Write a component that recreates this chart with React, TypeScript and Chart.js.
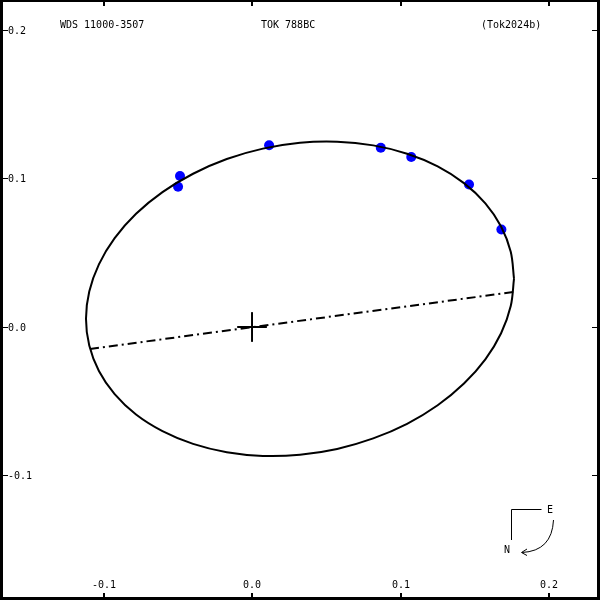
import React, { useEffect, useRef } from "react";
import { Chart, registerables } from "chart.js";

Chart.register(...registerables);

// Orbit (apparent ellipse)
const orbitX = [0.1764, 0.1742, 0.1677, 0.1571, 0.1427, 0.125, 0.1044, 0.0816, 0.0573, 0.0323, 0.0073, -0.017, -0.0397, -0.0603, -0.0781, -0.0925, -0.1031, -0.1096, -0.1118, -0.1096, -0.1031, -0.0925, -0.0781, -0.0603, -0.0397, -0.017, 0.0073, 0.0323, 0.0573, 0.0816, 0.1044, 0.125, 0.1427, 0.1571, 0.1677, 0.1742, 0.1764];
const orbitY = [0.0326, 0.0141, -0.0042, -0.0218, -0.0381, -0.0527, -0.0652, -0.075, -0.0821, -0.086, -0.0868, -0.0843, -0.0787, -0.0701, -0.0589, -0.0452, -0.0296, -0.0125, 0.0055, 0.0239, 0.0422, 0.0598, 0.0762, 0.0908, 0.1032, 0.1131, 0.1201, 0.1241, 0.1248, 0.1223, 0.1167, 0.1082, 0.0969, 0.0833, 0.0677, 0.0506, 0.0326];

// Observations
const obsX = [0.0115, 0.0867, 0.1072, 0.1461, 0.1679, -0.0485, -0.0498];
const obsY = [0.1224, 0.1207, 0.1145, 0.096, 0.0657, 0.1017, 0.0944];

// Line of nodes
const nodesX = [-0.1091, 0.1764];
const nodesY = [-0.0148, 0.0236];

// Axis ticks
const tickValuesX = [-0.1, 0, 0.1, 0.2];
const tickLabelsX = ["-0.1", "0.0", "0.1", "0.2"];
const tickValuesY = [0.2, 0.1, 0, -0.1];
const tickLabelsY = ["0.2", "0.1", "0.0", "-0.1"];

const titleLeft = "WDS 11000-3507";
const titleMid = "TOK 788BC";
const titleRight = "(Tok2024b)";

const crossSize = 0.01;

const FONT = '10px "DejaVu Sans Mono", "Liberation Mono", monospace';

const framePlugin = {
  id: "framePlugin",
  afterDraw(chart: any) {
    const ctx = chart.ctx as CanvasRenderingContext2D;
    const xs = chart.scales.x;
    const ys = chart.scales.y;
    const W = chart.width;
    const H = chart.height;
    ctx.save();
    ctx.fillStyle = "#000";
    // frame
    ctx.fillRect(0, 0, 3, H);
    ctx.fillRect(0, 0, W, 2);
    ctx.fillRect(W - 3, 0, 3, H);
    ctx.fillRect(0, H - 3, W, 3);
    ctx.font = FONT;
    // x ticks + labels
    ctx.textAlign = "center";
    ctx.textBaseline = "middle";
    tickValuesX.forEach((v, i) => {
      const px = Math.round(xs.getPixelForValue(v));
      ctx.fillRect(px - 1, 2, 2, 4);
      ctx.fillRect(px - 1, H - 7, 2, 4);
      ctx.fillText(tickLabelsX[i], px, H - 15);
    });
    // y ticks + labels
    ctx.textAlign = "left";
    tickValuesY.forEach((v, i) => {
      const py = Math.round(ys.getPixelForValue(v));
      ctx.fillRect(3, py, 5, 1);
      ctx.fillRect(W - 8, py, 5, 1);
      ctx.fillText(tickLabelsY[i], 8, py + 1);
    });
    // titles
    ctx.fillText(titleLeft, 60, 25);
    ctx.fillText(titleMid, 261, 25);
    ctx.fillText(titleRight, 481, 25);
    // compass
    ctx.strokeStyle = "#000";
    ctx.lineWidth = 1;
    ctx.beginPath();
    ctx.moveTo(541.5, 509.5);
    ctx.lineTo(511.5, 509.5);
    ctx.lineTo(511.5, 540);
    ctx.stroke();
    ctx.fillText("E", 547, 510);
    ctx.fillText("N", 504, 550);
    ctx.beginPath();
    ctx.moveTo(553.5, 520);
    ctx.quadraticCurveTo(552, 551, 522, 552.5);
    ctx.stroke();
    ctx.beginPath();
    ctx.moveTo(527, 549);
    ctx.lineTo(521.5, 552.5);
    ctx.lineTo(527, 555.5);
    ctx.stroke();
    ctx.restore();
  },
};

export default function App() {
  const ref = useRef<HTMLCanvasElement | null>(null);
  useEffect(() => {
    if (!ref.current) return;
    const orbit = orbitX.map((x, i) => ({ x, y: orbitY[i] }));
    const obs = obsX.map((x, i) => ({ x, y: obsY[i] }));
    const nodes = nodesX.map((x, i) => ({ x, y: nodesY[i] }));
    const chart = new Chart(ref.current, {
      type: "scatter",
      data: {
        datasets: [
          {
            label: "orbit",
            data: orbit,
            showLine: true,
            borderColor: "#000",
            borderWidth: 2,
            pointRadius: 0,
            tension: 0.35,
            fill: false,
            order: 0,
          } as any,
          {
            label: "nodes",
            data: nodes,
            showLine: true,
            borderColor: "#000",
            borderWidth: 2,
            borderDash: [9, 4, 2, 4],
            pointRadius: 0,
            order: 1,
          } as any,
          {
            label: "crossH",
            data: [{ x: -crossSize, y: 0 }, { x: crossSize, y: 0 }],
            showLine: true,
            borderColor: "#000",
            borderWidth: 2,
            pointRadius: 0,
            order: 1,
          } as any,
          {
            label: "crossV",
            data: [{ x: 0, y: -crossSize }, { x: 0, y: crossSize }],
            showLine: true,
            borderColor: "#000",
            borderWidth: 2,
            pointRadius: 0,
            order: 1,
          } as any,
          {
            label: "obs",
            data: obs,
            showLine: false,
            pointRadius: 5,
            pointBackgroundColor: "#0000ff",
            pointBorderWidth: 0,
            order: 2,
          } as any,
        ],
      },
      options: {
        responsive: false,
        animation: false,
        layout: { padding: 0, autoPadding: false },
        plugins: { legend: { display: false }, tooltip: { enabled: false } },
        scales: {
          x: { type: "linear", min: -0.1697, max: 0.2343, display: false },
          y: { type: "linear", min: -0.18384, max: 0.2202, display: false },
        },
      },
      plugins: [framePlugin],
    });
    return () => chart.destroy();
  }, []);
  return (
    <div style={{ position: "fixed", left: 0, top: 0, width: 600, height: 600, background: "#fff" }}>
      <canvas ref={ref} width={600} height={600} style={{ display: "block" }} />
    </div>
  );
}
